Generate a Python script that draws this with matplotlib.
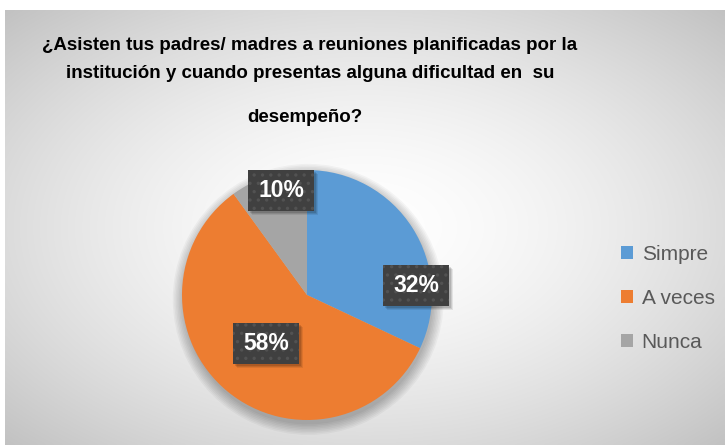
import numpy as np
import matplotlib
matplotlib.use("Agg")
import matplotlib.pyplot as plt
from matplotlib.patches import Circle, Rectangle

# ---- data ----
categories = ["Simpre", "A veces", "Nunca"]
values = [32, 58, 10]
colors = ["#5B9BD5", "#ED7D31", "#A5A5A5"]
title_lines = ["¿Asisten tus padres/ madres a reuniones planificadas por la",
               "institución y cuando presentas alguna dificultad en  su",
               "desempeño?"]

W, H = 725, 445
fig = plt.figure(figsize=(W / 100, H / 100), dpi=100)
fig.patch.set_facecolor("white")
plt.rcParams["hatch.linewidth"] = 1.2

# background gradient (chart area)
x0, y0 = 5, 10
bg = fig.add_axes([x0 / W, 0, 1 - x0 / W, 1 - y0 / H], zorder=0)
yy, xx = np.mgrid[-1:1:200j, -1:1:300j]
r = np.sqrt(xx ** 2 + yy ** 2) / np.sqrt(2)
val = 1.0 - 0.24 * r ** 1.6
img = np.dstack([val, val, val])
bg.imshow(img, aspect="auto", extent=[0, 1, 0, 1], interpolation="bilinear")
bg.set_axis_off()

# title
fam = ["Liberation Sans Narrow", "Liberation Sans", "DejaVu Sans"]
ty = [46, 73, 118]
tx = [310, 310, 305]
for line, y, x in zip(title_lines, ty, tx):
    fig.text(x / W, 1 - y / H, line, ha="center", va="center",
             fontsize=13.5, fontweight="bold", color="#000000", family=fam)

# pie
cx, cy, R = 307, 295, 125
ax = fig.add_axes([(cx - R) / W, 1 - (cy + R) / H, 2 * R / W, 2 * R / H], zorder=2)
for k in range(8):
    ax.add_patch(Circle((0.01, -0.035), 1.0 + 0.012 * k, fc="#000000", ec="none",
                        alpha=0.035, clip_on=False, zorder=0))
wedges, _ = ax.pie(values, colors=colors, startangle=90, counterclock=False,
                   radius=1.0, wedgeprops=dict(linewidth=0))
for w in wedges:
    w.set_clip_on(False)
    w.set_zorder(1)
ax.set_xlim(-1, 1)
ax.set_ylim(-1, 1)
ax.set_aspect("equal")
ax.set_axis_off()

# data labels (placement: radius fraction, angle in degrees)
label_pos = [(0.876, 5.2), (0.511, -130.0), (0.865, 103.9)]
bw, bh = 66 / R, 41 / R
total = sum(values)
for v, (rr, ang) in zip(values, label_pos):
    a = np.deg2rad(ang)
    lx, ly = rr * np.cos(a), rr * np.sin(a)
    for k, al in enumerate([0.12, 0.10, 0.08]):
        d = (2 + k) / R
        ax.add_patch(Rectangle((lx - bw / 2 + d, ly - bh / 2 - d), bw, bh,
                               fc="#000000", ec="none", alpha=al, zorder=4, clip_on=False))
    ax.add_patch(Rectangle((lx - bw / 2, ly - bh / 2), bw, bh, fc="#404040",
                           ec="#525252", lw=0, hatch="..", zorder=5, clip_on=False))
    ax.text(lx, ly, f"{round(100 * v / total)}%", ha="center", va="center",
            fontsize=16.5, fontweight="bold", color="white",
            family=["Liberation Sans", "DejaVu Sans"], zorder=6)

# legend
leg = fig.legend(wedges, categories, loc="center left",
                 bbox_to_anchor=(602 / W, 1 - 298 / H), frameon=False,
                 handlelength=0.6, handleheight=0.6,
                 handletextpad=0.4, labelspacing=1.2,
                 prop=dict(family=["Liberation Sans", "DejaVu Sans"], size=15))
for txt in leg.get_texts():
    txt.set_color("#595959")

fig.savefig("out.png", dpi=100, facecolor=fig.get_facecolor())
